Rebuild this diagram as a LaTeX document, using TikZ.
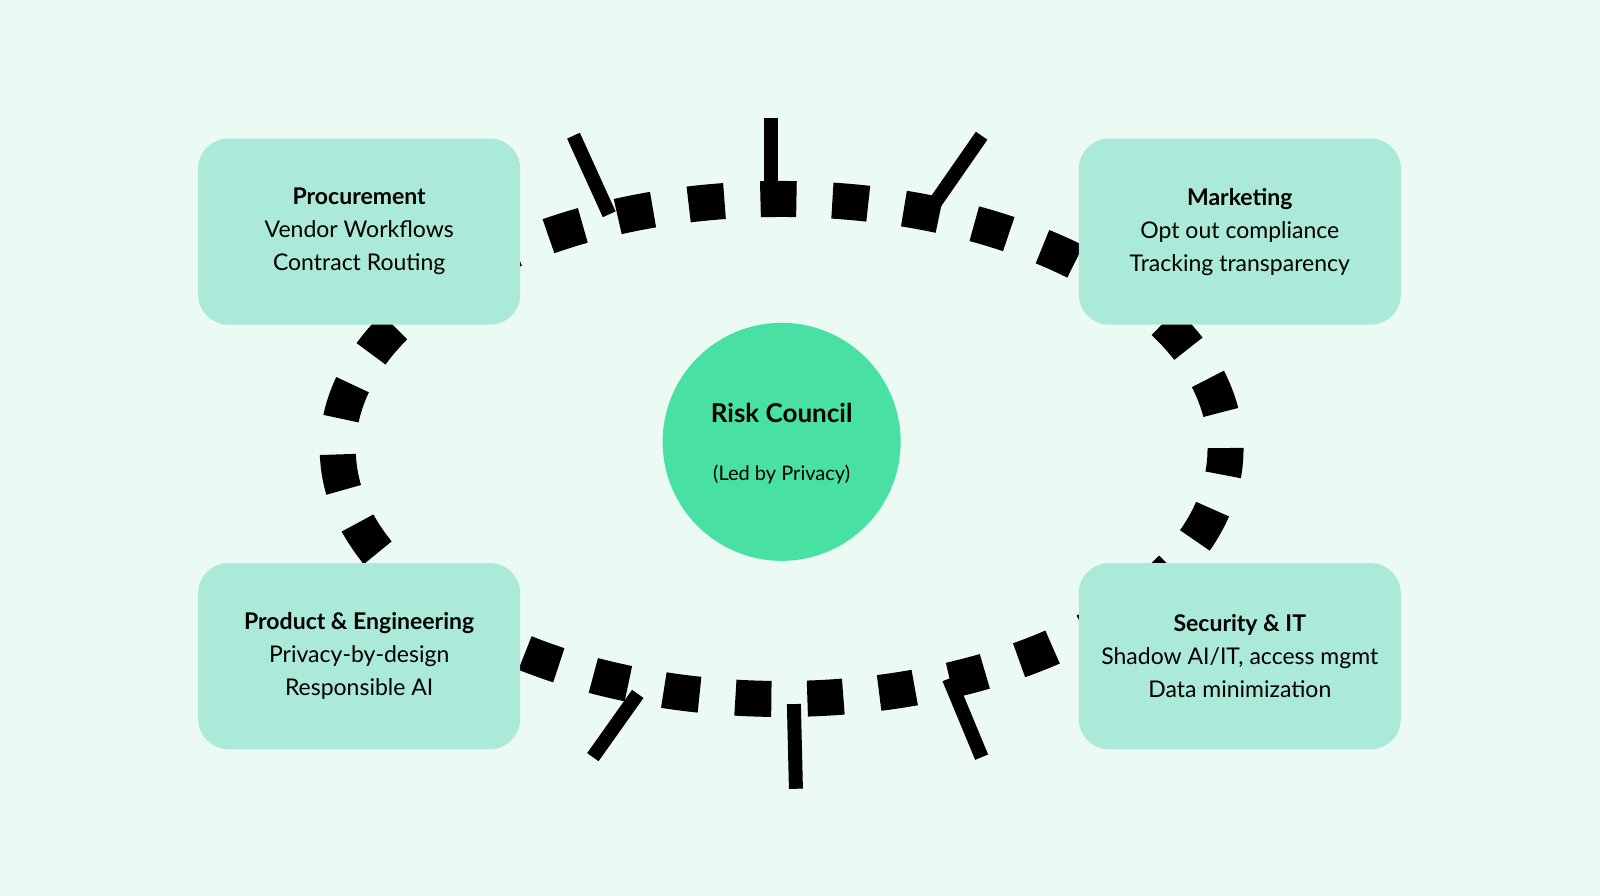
\documentclass[tikz,border=0pt]{standalone}
\usepackage{fontspec}
\setmainfont{Lato}
\definecolor{bg}{HTML}{EBFAF3}
\definecolor{boxc}{HTML}{ABE9D8}
\definecolor{hub}{HTML}{48E0A3}
\begin{document}
\begin{tikzpicture}[x=1.0204pt,y=-1.0204pt,
  box/.style={fill=boxc,rounded corners=30pt,minimum width=322pt,minimum height=186pt,align=center,font=\fontsize{23}{33}\selectfont},
  tick/.style={line width=14pt}]
\fill[bg] (0,0) rectangle (1568,878);
\useasboundingbox (0,0) rectangle (1568,878);
\coordinate (t1a) at (756,116); \coordinate (t1b) at (756,190);
\coordinate (t2a) at (562,133); \coordinate (t2b) at (597,210);
\coordinate (t3a) at (962,133); \coordinate (t3b) at (912,205);
\coordinate (t4a) at (780,773); \coordinate (t4b) at (778,690);
\coordinate (t5a) at (581,742); \coordinate (t5b) at (625,680);
\coordinate (t6a) at (962,742); \coordinate (t6b) at (930,665);
\foreach \i in {1,...,6}{\draw[tick] (t\i a) -- (t\i b);}
\draw[line width=36pt,dash pattern=on 36pt off 36pt,dash phase=10pt] (766,440) ellipse [x radius=435, y radius=245];
\node[box] (proc) at (352,227) {\textbf{Procurement}\\Vendor Workflows\\Contract Routing};
\node[box] (mkt) at (1215,227) {\textbf{Marketing}\\Opt out compliance\\Tracking transparency};
\node[box] (prod) at (352,643) {\textbf{Product \& Engineering}\\Privacy-by-design\\Responsible AI};
\node[box] (sec) at (1215,643) {\textbf{Security \& IT}\\Shadow AI/IT, access mgmt\\Data minimization};
\node[circle,fill=hub,minimum size=238pt,align=center] (hubn) at (766,433) {};
\node[font=\fontsize{26}{30}\selectfont\bfseries] (t) at (766,405) {Risk Council};
\node[font=\fontsize{20}{24}\selectfont] (s) at (766,465) {(Led by Privacy)};
\end{tikzpicture}
\end{document}
